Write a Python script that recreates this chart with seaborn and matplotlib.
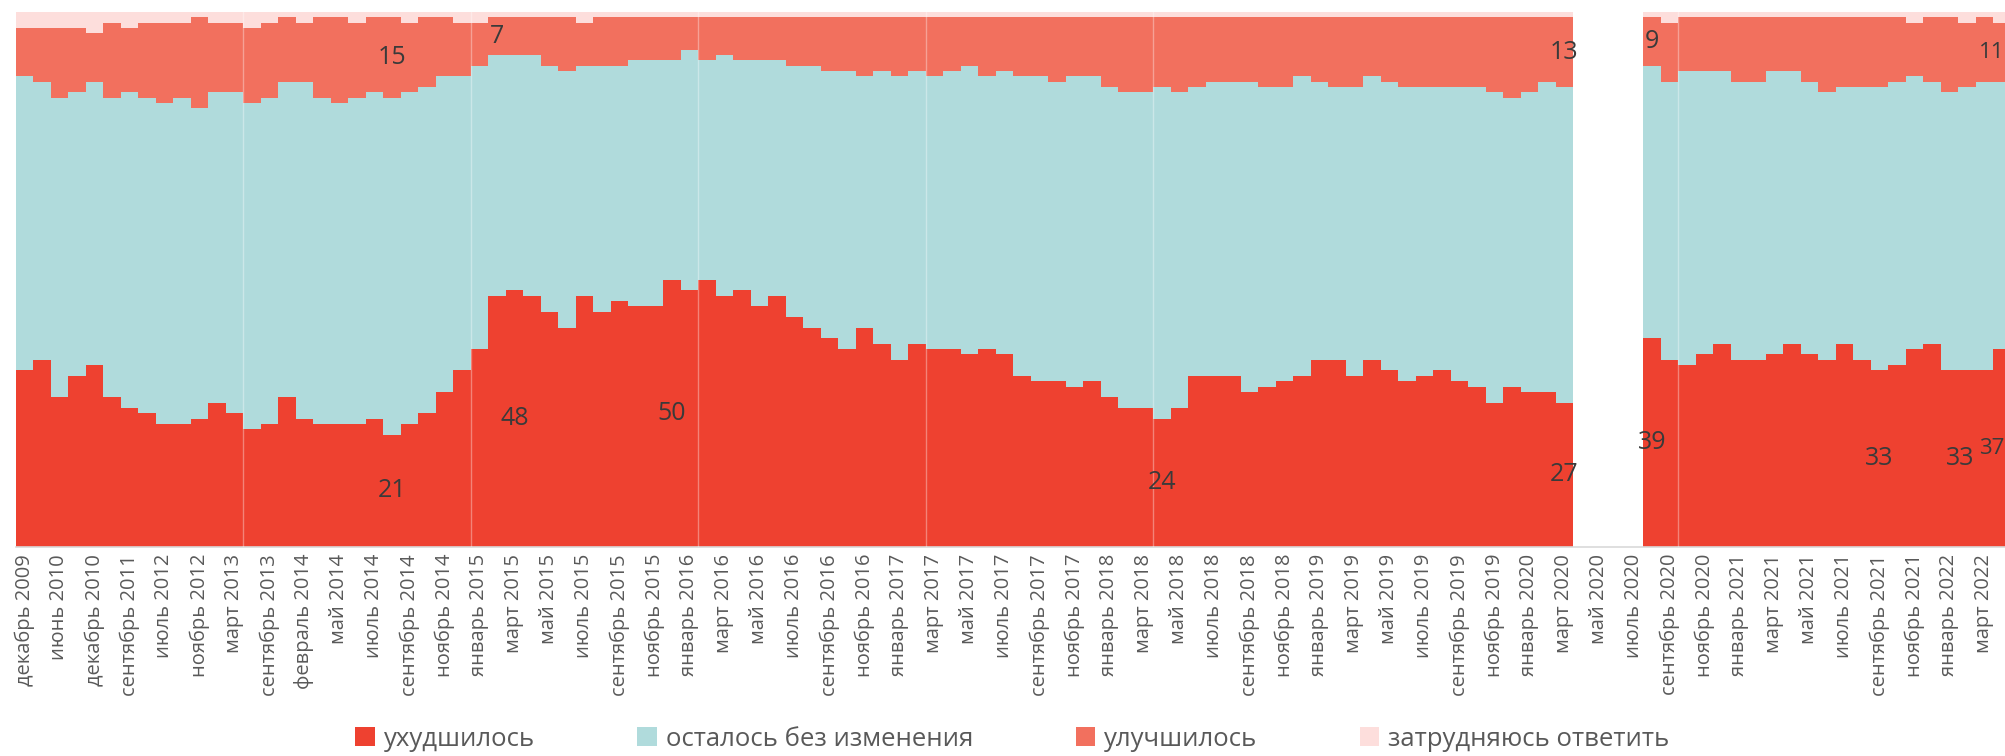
import pandas as pd
import matplotlib.pyplot as plt
from matplotlib.patches import Patch
import seaborn as sns

# every second survey wave gets a label on the axis
tick_labels = [
    "декабрь 2009", "июнь 2010", "декабрь 2010", "сентябрь 2011", "июль 2012",
    "ноябрь 2012", "март 2013", "сентябрь 2013", "февраль 2014", "май 2014",
    "июль 2014", "сентябрь 2014", "ноябрь 2014", "январь 2015", "март 2015",
    "май 2015", "июль 2015", "сентябрь 2015", "ноябрь 2015", "январь 2016",
    "март 2016", "май 2016", "июль 2016", "сентябрь 2016", "ноябрь 2016",
    "январь 2017", "март 2017", "май 2017", "июль 2017", "сентябрь 2017",
    "ноябрь 2017", "январь 2018", "март 2018", "май 2018", "июль 2018",
    "сентябрь 2018", "ноябрь 2018", "январь 2019", "март 2019", "май 2019",
    "июль 2019", "сентябрь 2019", "ноябрь 2019", "январь 2020", "март 2020",
    "май 2020", "июль 2020", "сентябрь 2020", "ноябрь 2020", "январь 2021",
    "март 2021", "май 2021", "июль 2021", "сентябрь 2021", "ноябрь 2021",
    "январь 2022", "март 2022",
]

N = None  # no survey in spring/summer 2020

worse = [
    33, 35, 28, 32, 34, 28, 26, 25, 23, 23,
    24, 27, 25, 22, 23, 28, 24, 23, 23, 23,
    24, 21, 23, 25, 29, 33, 37, 47, 48, 47,
    44, 41, 47, 44, 46, 45, 45, 50, 48, 50,
    47, 48, 45, 47, 43, 41, 39, 37, 41, 38,
    35, 38, 37, 37, 36, 37, 36, 32, 31, 31,
    30, 31, 28, 26, 26, 24, 26, 32, 32, 32,
    29, 30, 31, 32, 35, 35, 32, 35, 33, 31,
    32, 33, 31, 30, 27, 30, 29, 29, 27, N,
    N, N, N, 39, 35, 34, 36, 38, 35, 35,
    36, 38, 36, 35, 38, 35, 33, 34, 37, 38,
    33, 33, 33, 37,
]
same = [
    55, 52, 56, 53, 53, 56, 59, 59, 60, 61,
    58, 58, 60, 61, 61, 59, 63, 61, 60, 61,
    61, 63, 62, 61, 59, 55, 53, 45, 44, 45,
    46, 48, 43, 46, 44, 46, 46, 41, 45, 41,
    45, 43, 46, 44, 47, 49, 50, 52, 47, 51,
    53, 51, 51, 52, 54, 51, 53, 56, 57, 56,
    58, 57, 58, 59, 59, 62, 59, 54, 55, 55,
    58, 56, 55, 56, 52, 51, 54, 53, 54, 55,
    54, 53, 55, 56, 58, 54, 56, 58, 59, N,
    N, N, N, 51, 52, 55, 53, 51, 52, 52,
    53, 51, 51, 50, 48, 51, 53, 53, 51, 49,
    52, 53, 54, 50,
]
better = [
    9, 10, 13, 12, 9, 14, 12, 14, 15, 14,
    17, 13, 13, 14, 14, 12, 11, 15, 16, 14,
    14, 15, 13, 13, 11, 10, 8, 7, 7, 7,
    9, 10, 8, 9, 9, 8, 8, 8, 6, 8,
    7, 8, 8, 8, 9, 9, 10, 10, 11, 10,
    11, 10, 11, 10, 9, 11, 10, 11, 11, 12,
    11, 11, 13, 14, 14, 13, 14, 13, 12, 12,
    12, 13, 13, 11, 12, 13, 13, 11, 12, 13,
    13, 13, 13, 13, 14, 15, 14, 12, 13, N,
    N, N, N, 9, 11, 10, 10, 10, 12, 12,
    10, 10, 12, 14, 13, 13, 13, 12, 10, 12,
    14, 12, 12, 11,
]
hard = [
    3, 3, 3, 3, 4, 2, 3, 2, 2, 2,
    1, 2, 2, 3, 2, 1, 2, 1, 1, 2,
    1, 1, 2, 1, 1, 2, 2, 1, 1, 1,
    1, 1, 2, 1, 1, 1, 1, 1, 1, 1,
    1, 1, 1, 1, 1, 1, 1, 1, 1, 1,
    1, 1, 1, 1, 1, 1, 1, 1, 1, 1,
    1, 1, 1, 1, 1, 1, 1, 1, 1, 1,
    1, 1, 1, 1, 1, 1, 1, 1, 1, 1,
    1, 1, 1, 1, 1, 1, 1, 1, 1, N,
    N, N, N, 1, 2, 1, 1, 1, 1, 1,
    1, 1, 1, 1, 1, 1, 1, 1, 2, 1,
    1, 2, 1, 2,
]

series_names = ["ухудшилось", "осталось без изменения", "улучшилось", "затрудняюсь ответить"]
colors = ["#EE4130", "#B0DBDC", "#F2705E", "#FDDEDC"]

# bars that carry a value label, and which segment
label_bars = [21, 21, 27, 28, 37, 65, 88, 88, 93, 93, 106, 111, 113, 113]
label_series = ["worse", "better", "better", "worse", "worse", "worse", "worse",
                "better", "worse", "better", "worse", "worse", "worse", "better"]

# thin separators between groups of waves
separators = [13, 26, 39, 52, 65, 95]

df = pd.DataFrame({"pos": range(len(worse)), "worse": worse, "same": same,
                   "better": better, "hard": hard}).dropna()
df["c1"] = df["worse"]
df["c2"] = df["c1"] + df["same"]
df["c3"] = df["c2"] + df["better"]
df["c4"] = df["c3"] + df["hard"]

sns.set_style("white")
plt.rcParams["font.family"] = ["Open Sans", "DejaVu Sans"]

fig = plt.figure(figsize=(20.05, 7.56), dpi=100)
ax = fig.add_axes([0.0078, 0.2765, 0.9922, 0.7075])
x_right = 113.18

# draw cumulative totals from the top layer down
for col, color in zip(["c4", "c3", "c2", "c1"], colors[::-1]):
    sns.barplot(data=df, x="pos", y=col, native_scale=True, width=1.0,
                color=color, saturation=1, errorbar=None, linewidth=0, ax=ax)

for s in separators:
    ax.axvline(s - 0.5, color="white", alpha=0.35, lw=1, zorder=5)

bottoms = {"worse": 0, "same": "c1", "better": "c2", "hard": "c3"}
last_bar = max(label_bars)
for b, s in zip(label_bars, label_series):
    row = df[df["pos"] == b].iloc[0]
    base = 0 if bottoms[s] == 0 else row[bottoms[s]]
    val = row[s]
    y = base + val / 2
    if b == last_bar:
        # the last wave sits on the cut edge: keep its labels inside
        ax.text(x_right - 0.05, y, f"{val:.0f}", ha="right", va="center",
                fontsize=16, color="#3a3a3a", zorder=6)
    elif b == last_bar - 2 and s == "worse":
        # nudge so it sits beside the edge label, as in the source
        ax.text(b - 0.4, y, f"{val:.0f}", ha="center", va="center",
                fontsize=18, color="#3a3a3a", zorder=6)
    else:
        ax.text(b, y, f"{val:.0f}", ha="center", va="center",
                fontsize=18, color="#3a3a3a", zorder=6)

ax.set_xlim(-0.5, x_right)
ax.set_ylim(0, 100)
ax.set_xticks(range(0, 2 * len(tick_labels), 2))
ax.set_xticklabels(tick_labels, rotation=90, fontsize=14.5, color="#595959")
ax.tick_params(axis="x", length=0, pad=5)
ax.set_yticks([])
ax.set_xlabel("")
ax.set_ylabel("")
for side in ["left", "right", "top"]:
    ax.spines[side].set_visible(False)
ax.spines["bottom"].set_color("#d9d9d9")
ax.spines["bottom"].set_linewidth(1.2)

handles = [Patch(facecolor=c, edgecolor="none") for c in colors]
fig.legend(handles, series_names, loc="center", bbox_to_anchor=(0.505, 0.022),
           ncol=4, frameon=False, fontsize=18.5, labelcolor="#595959",
           handlelength=0.75, handleheight=0.75, handletextpad=0.35,
           columnspacing=4.0)

fig.savefig("out.png", dpi=100)
